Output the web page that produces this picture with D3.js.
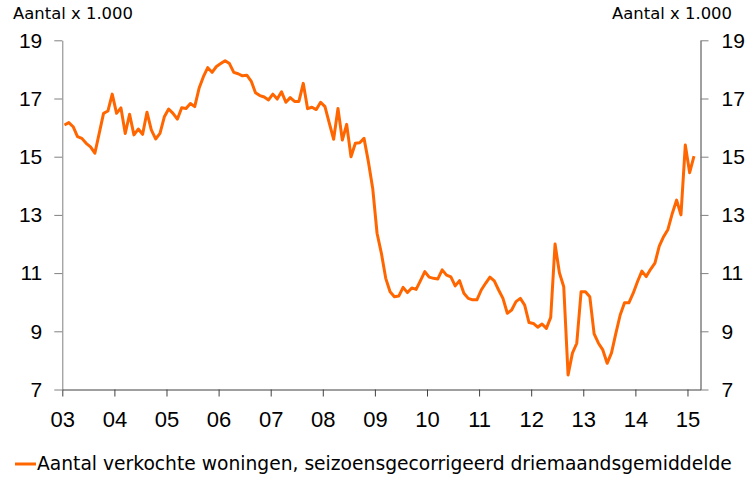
<!DOCTYPE html>
<html>
<head>
<meta charset="utf-8">
<script src="https://cdn.jsdelivr.net/npm/d3@7"></script>
<style>
  html, body { margin: 0; padding: 0; background: #fff; }
  svg { display: block; font-family: Verdana, "DejaVu Sans", sans-serif; }
</style>
</head>
<body>
<svg id="chart" width="752" height="484"></svg>
<script>
// Monthly sales, Jan 2003 .. Feb 2015 (x 1.000)
const startYear = 2003;
const sales = [
  16.09, 16.17, 16.03, 15.69, 15.63, 15.46, 15.34, 15.12, 15.80, 16.49, 16.57, 17.15,
  16.49, 16.68, 15.80, 16.46, 15.75, 15.95, 15.77, 16.53, 15.92, 15.61, 15.80, 16.37,
  16.64, 16.49, 16.29, 16.68, 16.66, 16.83, 16.72, 17.35, 17.75, 18.06, 17.90, 18.10,
  18.20, 18.30, 18.20, 17.90, 17.85, 17.78, 17.80, 17.60, 17.20, 17.10, 17.05, 16.95,
  17.15, 16.98, 17.23, 16.87, 17.03, 16.90, 16.90, 17.52, 16.65, 16.70, 16.62, 16.87,
  16.72, 16.15, 15.60, 16.66, 15.57, 16.11, 15.00, 15.46, 15.48, 15.63, 14.83, 13.91,
  12.37, 11.68, 10.82, 10.36, 10.19, 10.21, 10.51, 10.33, 10.49, 10.44, 10.74, 11.05,
  10.86, 10.82, 10.80, 11.11, 10.93, 10.87, 10.56, 10.74, 10.31, 10.13, 10.08, 10.08,
  10.42, 10.65, 10.86, 10.73, 10.42, 10.13,  9.62,  9.73, 10.02, 10.13,  9.90,  9.30,
   9.27,  9.14,  9.25,  9.10,  9.48, 12.00, 11.01, 10.53,  7.50,  8.25,  8.59, 10.36,
  10.36, 10.19,  8.91,  8.59,  8.36,  7.90,  8.26,  8.93,  9.56,  9.98,  9.98, 10.31,
  10.71, 11.07, 10.88, 11.13, 11.34, 11.93, 12.25, 12.50, 13.05, 13.51, 13.00, 15.40,
  14.45, 15.02
];
const yearTicks = d3.range(2003, 2016);
const valueTicks = [7, 9, 11, 13, 15, 17, 19];
const unitLabel = 'Aantal x 1.000';
const seriesName = 'Aantal verkochte woningen, seizoensgecorrigeerd driemaandsgemiddelde';

const svg = d3.select('#chart');
const lineColor = '#ff6600';

const x = d3.scaleLinear().domain([2003, 2015.25]).range([62.3, 700.5]);
const y = d3.scaleLinear().domain([7, 19]).range([389.5, 40.3]);

// Axes
const bottom = svg.append('g')
    .attr('transform', `translate(0,${y(7)})`)
    .call(d3.axisBottom(x).tickValues(yearTicks).tickSize(7).tickSizeOuter(0)
        .tickPadding(15).tickFormat(d => String(d).slice(2)));
bottom.select('.domain').attr('stroke', '#404040');
bottom.selectAll('.tick line').attr('stroke', '#404040');
bottom.selectAll('text').style('font-size', '22px').attr('fill', '#000');

const left = svg.append('g')
    .attr('transform', `translate(${x(2003)},0)`)
    .call(d3.axisLeft(y).tickValues(valueTicks).tickSize(8).tickSizeOuter(0).tickPadding(12));
left.select('.domain').attr('stroke', '#808080');
left.selectAll('.tick line').attr('stroke', '#808080');
left.selectAll('text').style('font-size', '21px').attr('fill', '#000');

const right = svg.append('g')
    .attr('transform', `translate(${x(2015.25)},0)`)
    .call(d3.axisRight(y).tickValues(valueTicks).tickSize(8).tickSizeOuter(0).tickPadding(13));
right.select('.domain').attr('stroke', '#404040');
right.selectAll('.tick line').attr('stroke', '#808080');
right.selectAll('text').style('font-size', '21px').attr('fill', '#000');

// Unit labels, stretched to the width seen in the reference
function fitText(sel, width) {
    const w = sel.node().getComputedTextLength();
    const fs = parseFloat(sel.style('font-size'));
    sel.style('font-size', (fs * width / w) + 'px');
}

const unitL = svg.append('text')
    .attr('x', 13).attr('y', 19)
    .style('font-size', '16px').attr('fill', '#000')
    .text(unitLabel);
fitText(unitL, 120);

const unitR = svg.append('text')
    .attr('x', 732).attr('y', 19)
    .attr('text-anchor', 'end')
    .style('font-size', '16px').attr('fill', '#000')
    .text(unitLabel);
fitText(unitR, 120);

// Series line
const line = d3.line()
    .x((d, i) => x(startYear + (i + 0.5) / 12))
    .y(d => y(d));

svg.append('path')
    .datum(sales)
    .attr('fill', 'none')
    .attr('stroke', lineColor)
    .attr('stroke-width', 3)
    .attr('stroke-linejoin', 'round')
    .attr('d', line);

// Legend
svg.append('line')
    .attr('x1', 15).attr('x2', 36)
    .attr('y1', 464).attr('y2', 464)
    .attr('stroke', lineColor)
    .attr('stroke-width', 3);

const legendText = svg.append('text')
    .attr('x', 37).attr('y', 470)
    .style('font-size', '18px').attr('fill', '#000')
    .text(seriesName);
fitText(legendText, 695);
</script>
</body>
</html>
